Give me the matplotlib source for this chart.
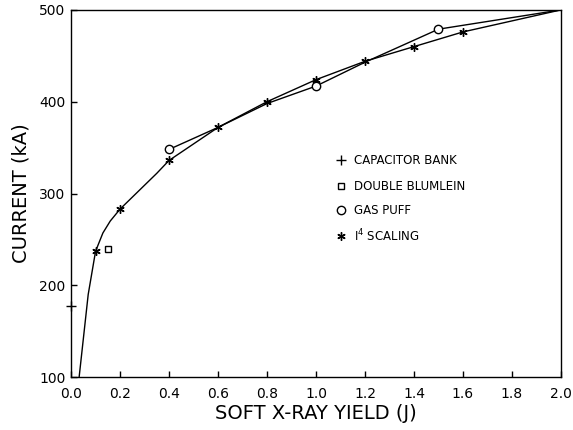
import matplotlib
matplotlib.use("Agg")
import matplotlib.pyplot as plt

# Data
cap_x = [0.0]
cap_y = [178]

blum_x = [0.15]
blum_y = [240]

gas_line_x = [0.4, 0.6, 0.8, 1.0, 1.2, 1.5, 2.0]
gas_line_y = [348, 372, 398, 417, 443, 479, 500]
gas_x = [0.4, 1.0, 1.5]
gas_y = [348, 417, 479]

scal_curve_x = [0.033, 0.07, 0.1, 0.13, 0.16, 0.2, 0.25, 0.3, 0.35, 0.4,
                0.6, 0.8, 1.0, 1.2, 1.4, 1.6, 2.0]
scal_curve_y = [100, 190, 237, 257, 270, 283, 296, 309, 322, 336,
                372, 400, 424, 444, 460, 476, 500]
scal_x = [0.1, 0.2, 0.4, 0.6, 0.8, 1.0, 1.2, 1.4, 1.6]
scal_y = [237, 283, 336, 372, 400, 424, 444, 460, 476]

xticks = [0.0, 0.2, 0.4, 0.6, 0.8, 1.0, 1.2, 1.4, 1.6, 1.8, 2.0]
yticks = [100, 200, 300, 400, 500]

legend_labels = ["CAPACITOR BANK", "DOUBLE BLUMLEIN", "GAS PUFF", "I$^4$ SCALING"]

plt.rcParams['font.family'] = ['DejaVu Sans']

fig = plt.figure(figsize=(5.73, 4.30), dpi=100)
ax = fig.add_axes([0.124, 0.123, 0.855, 0.854])

ast = (6, 2, 0)
k = 'black'

ax.plot(scal_curve_x, scal_curve_y, color=k, lw=1.0)
ax.plot(gas_line_x, gas_line_y, color=k, lw=1.0)
ax.plot(scal_x, scal_y, ls='none', marker=ast, ms=6, mec=k, mew=1.0)
ax.plot(gas_x, gas_y, ls='none', marker='o', ms=6, mfc='white', mec=k, mew=1.0)
ax.plot(blum_x, blum_y, ls='none', marker='s', ms=5, mfc='white', mec=k, mew=1.0)
ax.plot(cap_x, cap_y, ls='none', marker='+', ms=7, mec=k, mew=1.0, clip_on=False)

ax.set_xlim(0, 2.0)
ax.set_ylim(100, 500)
ax.set_xticks(xticks)
ax.set_xticklabels([f"{v:.1f}" for v in xticks])
ax.set_yticks(yticks)
ax.tick_params(direction='in', length=4, width=1, labelsize=10)
ax.tick_params(axis='x', pad=7)
ax.tick_params(axis='y', pad=4)
for s in ax.spines.values():
    s.set_linewidth(1.0)

ax.set_xlabel("SOFT X-RAY YIELD (J)", fontsize=14, labelpad=2)
ax.set_ylabel("CURRENT (kA)", fontsize=14, labelpad=6)

# manual legend
leg_markers = ['+', 's', 'o', ast]
leg_sizes = [7, 5, 6, 6]
leg_y = [0.591, 0.520, 0.455, 0.384]
for m, sz, yy, lab in zip(leg_markers, leg_sizes, leg_y, legend_labels):
    ax.plot([0.551], [yy], transform=ax.transAxes, ls='none', marker=m, ms=sz,
            mfc='white', mec=k, mew=1.0, clip_on=False)
    ax.text(0.578, yy, lab, transform=ax.transAxes, fontsize=8.5, va='center', ha='left')

fig.savefig("out.png", dpi=100)
